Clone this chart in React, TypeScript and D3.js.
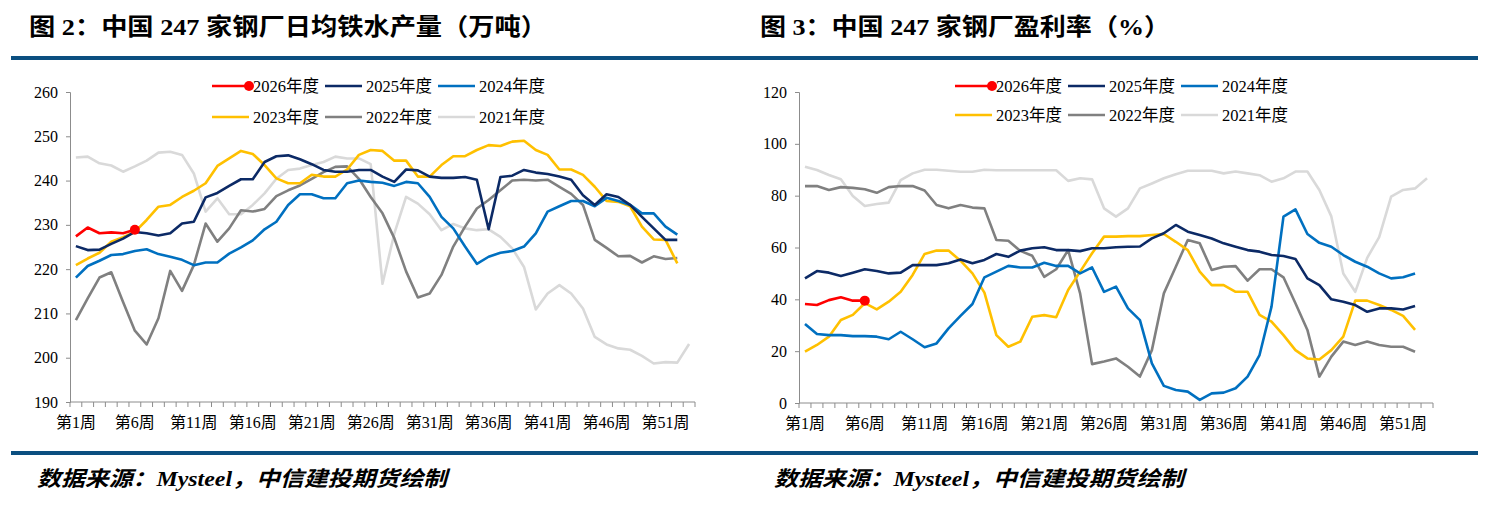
import React, { useEffect, useRef } from "react";
import * as d3 from "d3";

// categories
const weekCount = 53;
const weeks = d3.range(1, weekCount + 1);
const labeledWeeks = [1, 6, 11, 16, 21, 26, 31, 36, 41, 46, 51];

// 图2: 日均铁水产量 (万吨)
const iron2026 = [227.4, 229.4, 228.1, 228.3, 228.1, 228.9];
const iron2025 = [225.2, 224.3, 224.4, 225.7, 226.9, 228.4, 228.1, 227.6, 228.1, 230.3, 230.7, 236.2, 237.2, 238.8, 240.3, 240.3, 244.2, 245.5, 245.7, 244.8, 243.7, 242.4, 242.0, 242.0, 242.4, 242.4, 240.9, 239.7, 242.5, 242.3, 240.9, 240.6, 240.6, 240.8, 240.2, 229.0, 240.8, 241.1, 242.4, 241.8, 241.5, 240.9, 240.2, 236.7, 234.5, 236.9, 236.3, 234.5, 231.8, 229.2, 226.6, 226.6];
const iron2024 = [218.1, 220.7, 221.9, 223.2, 223.4, 224.1, 224.5, 223.4, 222.8, 222.1, 220.9, 221.5, 221.5, 223.5, 224.9, 226.5, 229.0, 230.7, 234.5, 236.9, 236.9, 236.0, 236.0, 239.4, 240.0, 239.7, 239.5, 238.8, 239.7, 239.4, 236.3, 231.8, 229.2, 225.1, 221.2, 222.8, 223.7, 224.1, 225.1, 228.1, 233.0, 234.2, 235.4, 235.4, 234.2, 236.1, 235.4, 234.5, 232.6, 232.6, 229.6, 227.8];
const iron2023 = [220.9, 222.4, 223.7, 226.2, 227.2, 228.4, 231.1, 234.1, 234.5, 236.3, 237.7, 239.4, 243.3, 245.0, 246.7, 246.0, 243.5, 240.5, 239.4, 239.4, 241.3, 240.9, 240.9, 242.5, 245.8, 246.9, 246.7, 244.5, 244.5, 240.9, 240.9, 243.5, 245.5, 245.5, 246.9, 248.0, 247.8, 248.8, 249.0, 246.9, 245.8, 242.5, 242.5, 241.3, 238.6, 235.4, 235.2, 234.2, 229.6, 226.7, 226.6, 221.3];
const iron2022 = [208.5, 213.4, 218.1, 219.3, 212.6, 206.1, 203.0, 208.9, 219.6, 215.1, 220.9, 230.3, 226.2, 229.2, 233.3, 233.0, 233.6, 236.5, 237.8, 238.9, 240.4, 241.9, 243.1, 243.2, 240.4, 236.3, 232.6, 227.0, 219.5, 213.6, 214.5, 218.7, 225.1, 229.6, 233.7, 235.6, 237.8, 240.0, 240.2, 240.0, 240.2, 238.6, 237.0, 234.5, 226.6, 224.8, 222.9, 223.0, 221.5, 222.9, 222.3, 222.5];
const iron2021 = [245.2, 245.4, 243.9, 243.4, 242.0, 243.2, 244.5, 246.3, 246.5, 245.8, 241.6, 233.0, 236.0, 232.4, 232.4, 234.5, 237.1, 240.4, 242.4, 242.7, 243.5, 244.2, 245.4, 245.0, 245.0, 243.7, 216.7, 228.0, 236.3, 234.8, 232.4, 228.8, 230.2, 229.2, 228.8, 229.0, 227.3, 224.7, 220.5, 210.9, 214.5, 216.4, 214.5, 211.1, 204.7, 203.0, 202.1, 201.8, 200.4, 198.7, 199.0, 198.9, 203.1];
const ironTicks = [190, 200, 210, 220, 230, 240, 250, 260];

// 图3: 盈利率 (%)
const profit2026 = [38.2, 37.8, 39.7, 40.8, 39.5, 39.5];
const profit2025 = [48.1, 50.9, 50.3, 49.0, 50.3, 51.6, 50.9, 50.0, 50.3, 53.2, 53.2, 53.2, 53.9, 55.4, 53.9, 55.2, 57.5, 56.4, 58.8, 59.7, 60.1, 59.0, 59.0, 58.6, 59.7, 59.7, 60.1, 60.3, 60.4, 63.5, 65.5, 68.7, 66.1, 64.8, 63.5, 61.6, 60.3, 59.0, 58.4, 57.1, 56.7, 55.6, 48.1, 45.5, 40.0, 39.1, 37.8, 35.2, 36.5, 36.5, 36.1, 37.4];
const profit2024 = [30.5, 26.6, 26.2, 26.2, 25.8, 25.8, 25.6, 24.6, 27.5, 24.6, 21.5, 23.0, 28.8, 33.6, 38.2, 48.5, 50.7, 52.9, 52.3, 52.3, 54.1, 52.9, 52.9, 50.0, 52.3, 42.9, 44.9, 36.5, 32.0, 15.3, 6.6, 5.0, 4.4, 1.2, 3.7, 4.0, 5.7, 10.2, 18.5, 37.2, 71.9, 74.7, 65.2, 61.8, 60.3, 57.1, 54.5, 52.6, 50.0, 48.1, 48.5, 50.0];
const profit2023 = [19.8, 22.4, 25.6, 32.0, 34.0, 38.5, 36.1, 39.1, 42.9, 49.4, 57.5, 58.8, 58.8, 54.9, 50.0, 42.6, 26.2, 21.7, 23.7, 33.3, 33.9, 33.1, 43.6, 50.7, 57.8, 64.2, 64.2, 64.4, 64.4, 64.8, 65.2, 62.2, 59.0, 50.7, 45.5, 45.5, 42.9, 42.9, 34.0, 31.4, 26.2, 20.4, 17.2, 16.8, 20.4, 25.6, 39.5, 39.5, 37.8, 35.9, 33.6, 28.2];
const profit2022 = [83.7, 83.7, 82.2, 83.3, 83.0, 82.5, 81.1, 83.3, 83.7, 83.7, 82.0, 76.4, 75.1, 76.4, 75.4, 75.1, 62.9, 62.6, 58.7, 56.8, 48.7, 51.6, 59.0, 42.3, 15.0, 16.0, 17.2, 14.0, 10.2, 20.4, 42.3, 52.6, 62.9, 61.6, 51.3, 52.6, 52.8, 47.2, 51.6, 51.6, 48.5, 38.5, 28.2, 10.2, 17.9, 23.7, 22.4, 23.7, 22.4, 21.7, 21.7, 19.8];
const profit2021 = [91.2, 89.9, 88.0, 86.3, 79.9, 76.0, 76.8, 77.3, 86.0, 88.6, 90.0, 90.0, 89.6, 89.2, 89.2, 90.0, 89.8, 89.8, 89.8, 89.8, 89.8, 89.8, 85.7, 86.7, 86.3, 75.1, 71.9, 75.1, 82.8, 84.7, 86.7, 88.3, 89.6, 89.6, 89.6, 88.6, 89.3, 88.6, 87.9, 85.4, 86.7, 89.3, 89.3, 82.2, 72.0, 50.0, 42.9, 56.0, 64.0, 79.6, 82.2, 82.8, 86.7];
const profitTicks = [0, 20, 40, 60, 80, 100, 120];

const seriesNames = ["2026年度", "2025年度", "2024年度", "2023年度", "2022年度", "2021年度"];
const seriesColors = ["#ff0000", "#0c2a66", "#0070c0", "#ffc000", "#808080", "#d9d9d9"];

const SERIF = "'Liberation Serif', 'Times New Roman', 'Noto Sans CJK SC', serif";

const App: React.FC = () => {
  const svgRef = useRef<SVGSVGElement>(null);

  useEffect(() => {
    if (!svgRef.current) return;
    const svg = d3.select(svgRef.current);
    svg.selectAll("*").remove();

    // header / footer rules
    [56, 451].forEach(y => {
      svg.append("rect").attr("x", 11).attr("y", y).attr("width", 1467).attr("height", 4).attr("fill", "#0b4f80");
    });

    const panels = [
      {
        title: "图 2：中国 247 家钢厂日均铁水产量（万吨）",
        titleX: 29, titleLen: 518,
        left: 70, right: 695, top: 92, bottom: 402,
        domain: [190, 260], ticks: ironTicks,
        data: [iron2026, iron2025, iron2024, iron2023, iron2022, iron2021],
        legendX: 212, legendY: [86, 117],
        sourceX: 37,
      },
      {
        title: "图 3：中国 247 家钢厂盈利率（%）",
        titleX: 760, titleLen: 410,
        left: 799, right: 1433, top: 92, bottom: 403,
        domain: [0, 120], ticks: profitTicks,
        data: [profit2026, profit2025, profit2024, profit2023, profit2022, profit2021],
        legendX: 955, legendY: [86, 115],
        sourceX: 774,
      },
    ];

    panels.forEach(p => {
      svg.append("text")
        .attr("x", p.titleX).attr("y", 35)
        .attr("font-family", SERIF).attr("font-weight", "bold").attr("font-size", 24)
        .attr("textLength", p.titleLen).attr("lengthAdjust", "spacingAndGlyphs")
        .text(p.title);

      svg.append("text")
        .attr("x", p.sourceX).attr("y", 486)
        .attr("font-family", SERIF).attr("font-weight", "bold").attr("font-style", "italic")
        .attr("font-size", 21)
        .attr("textLength", 410).attr("lengthAdjust", "spacingAndGlyphs")
        .text("数据来源：Mysteel，中信建投期货绘制");

      const x = d3.scaleBand<number>().domain(weeks).range([p.left, p.right]).paddingInner(0).paddingOuter(0);
      const y = d3.scaleLinear().domain(p.domain).range([p.bottom, p.top]);
      const cx = (w: number) => (x(w) as number) + x.bandwidth() / 2;

      const g = svg.append("g");

      // y axis
      const yAxis = g.append("g")
        .attr("transform", `translate(${p.left},0)`)
        .attr("font-family", SERIF)
        .call(d3.axisLeft(y).tickValues(p.ticks).tickSize(4).tickPadding(8).tickFormat(d3.format("d")));
      yAxis.attr("font-family", SERIF);
      yAxis.select(".domain").attr("stroke", "#8c8c8c");
      yAxis.selectAll(".tick line").attr("stroke", "#8c8c8c");
      yAxis.selectAll("text").attr("font-family", SERIF).attr("font-size", 16).attr("fill", "#000");

      // x axis with boundary ticks
      const xg = g.append("g");
      xg.append("line")
        .attr("x1", p.left).attr("x2", p.right)
        .attr("y1", p.bottom).attr("y2", p.bottom)
        .attr("stroke", "#8c8c8c");
      const bounds = weeks.map(w => x(w) as number).concat([p.right]);
      xg.selectAll("line.tk").data(bounds).enter().append("line")
        .attr("class", "tk")
        .attr("x1", d => d).attr("x2", d => d)
        .attr("y1", p.bottom).attr("y2", p.bottom + 5)
        .attr("stroke", "#8c8c8c");
      xg.selectAll("text").data(labeledWeeks).enter().append("text")
        .attr("x", d => cx(d)).attr("y", p.bottom + 26)
        .attr("text-anchor", "middle")
        .attr("font-family", SERIF).attr("font-size", 16)
        .text(d => `第${d}周`);

      // lines (draw oldest first so newest on top)
      const line = d3.line<number>()
        .x((_, i) => cx(i + 1))
        .y(d => y(d));
      const order = [5, 4, 3, 2, 1, 0];
      order.forEach(k => {
        g.append("path")
          .datum(p.data[k])
          .attr("fill", "none")
          .attr("stroke", seriesColors[k])
          .attr("stroke-width", 2.6)
          .attr("stroke-linejoin", "round")
          .attr("d", line);
      });
      const cur = p.data[0];
      g.append("circle")
        .attr("cx", cx(cur.length)).attr("cy", y(cur[cur.length - 1]))
        .attr("r", 5).attr("fill", seriesColors[0]);

      // legend
      const colStep = 113;
      seriesNames.forEach((name, k) => {
        const row = Math.floor(k / 3);
        const col = k % 3;
        const lx = p.legendX + col * colStep;
        const ly = p.legendY[row];
        g.append("line")
          .attr("x1", lx).attr("x2", lx + 37)
          .attr("y1", ly).attr("y2", ly)
          .attr("stroke", seriesColors[k]).attr("stroke-width", 2.6);
        if (k === 0) {
          g.append("circle").attr("cx", lx + 37).attr("cy", ly).attr("r", 5).attr("fill", seriesColors[0]);
        }
        g.append("text")
          .attr("x", lx + 41).attr("y", ly + 5.5)
          .attr("font-family", SERIF).attr("font-size", 16.5)
          .text(name);
      });
    });
  }, []);

  return (
    <svg
      ref={svgRef}
      width={1485}
      height={517}
      style={{ position: "absolute", left: 0, top: 0, background: "#fff" }}
    />
  );
};

export default App;
